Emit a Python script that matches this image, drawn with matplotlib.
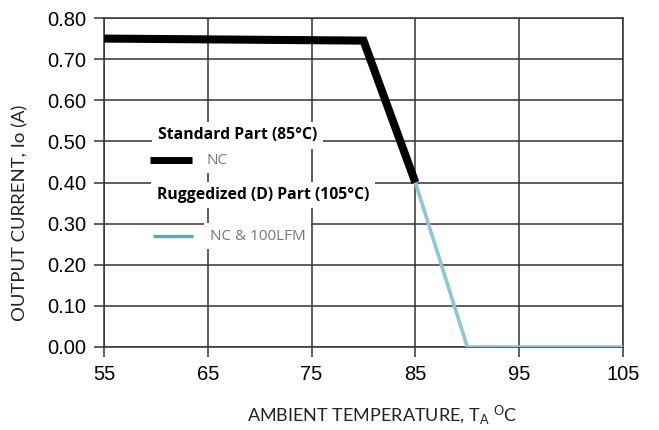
import matplotlib
matplotlib.use("Agg")
import matplotlib.pyplot as plt

# Data
std_temp = [55, 80, 85]
std_curr = [0.75, 0.745, 0.40]
rug_temp = [55, 80, 85, 90, 105]
rug_curr = [0.75, 0.75, 0.40, 0.0, 0.0]
xticks = [55, 65, 75, 85, 95, 105]
yticks = [0.0, 0.1, 0.2, 0.3, 0.4, 0.5, 0.6, 0.7, 0.8]

fig = plt.figure(figsize=(6.59, 4.30), dpi=100)
ax = fig.add_axes([104/659, 83/430, 519/659, 329/430])

gridc = "#333333"
ax.set_xlim(55, 105)
ax.set_ylim(0, 0.8)
ax.set_xticks(xticks)
ax.set_yticks(yticks)
ax.set_xticklabels([str(t) for t in xticks], fontsize=14.5, family="Liberation Sans")
ax.set_yticklabels([f"{t:.2f}" for t in yticks], fontsize=14.5, family="Liberation Sans")
ax.tick_params(axis="both", direction="out", length=7, width=1.1, color=gridc, pad=6)
ax.grid(True, color=gridc, linewidth=1.1)
for s in ax.spines.values():
    s.set_color(gridc)
    s.set_linewidth(1.1)
ax.set_axisbelow(True)

ax.plot(rug_temp, rug_curr, color="#8ec5d8", linewidth=2.6, solid_capstyle="butt", zorder=3)
ax.plot(std_temp, std_curr, color="black", linewidth=5.8, solid_capstyle="butt",
        solid_joinstyle="miter", zorder=4)

# Legend-like annotation with white backgrounds
bb = dict(facecolor="white", edgecolor="none", pad=4)
ax.text(0.104, 0.644, "Standard Part (85°C)", transform=ax.transAxes, fontsize=11.3,
        fontweight="bold", family="Open Sans", va="center", ha="left", bbox=bb, zorder=5)
ax.text(0.102, 0.462, "Ruggedized (D) Part (105°C)", transform=ax.transAxes, fontsize=11.3,
        fontweight="bold", family="Open Sans", va="center", ha="left", bbox=bb, zorder=5)
ax.text(0.197, 0.568, "NC", transform=ax.transAxes, fontsize=11, color="#777777",
        family="Open Sans", va="center", ha="left", bbox=bb, zorder=5)
ax.text(0.204, 0.337, "NC & 100LFM", transform=ax.transAxes, fontsize=11, color="#777777",
        family="Open Sans", va="center", ha="left", bbox=bb, zorder=5)
ax.plot([0.089, 0.170], [0.568, 0.568], transform=ax.transAxes, color="black",
        linewidth=5.0, solid_capstyle="butt", zorder=6)
ax.plot([0.094, 0.171], [0.337, 0.337], transform=ax.transAxes, color="#4aaccc",
        linewidth=2.4, solid_capstyle="butt", zorder=6)

fig.text(20/659, 1 - 213/430, "OUTPUT CURRENT, Io (A)", rotation=90, fontsize=13.3,
         family="Lato", color="#222222", ha="center", va="center")
fig.text(382/659, 1 - 415/430, r"AMBIENT TEMPERATURE, T$\mathregular{_A}$ $\mathregular{^O}$C",
         fontsize=13, family="Lato", color="#222222", ha="center", va="center")

fig.savefig("out.png", dpi=100)
